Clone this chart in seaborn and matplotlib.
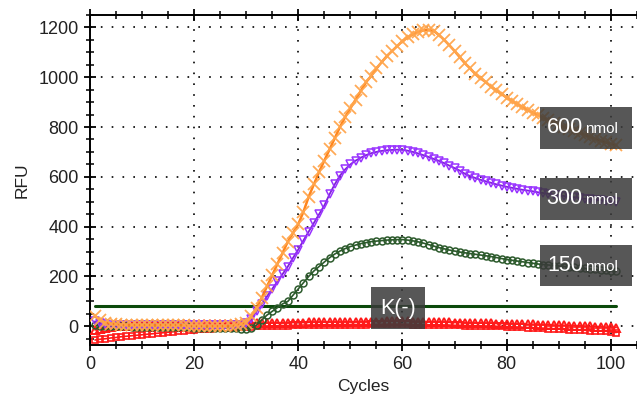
import numpy as np
import pandas as pd
import matplotlib
matplotlib.use("Agg")
import matplotlib.pyplot as plt
from matplotlib.patches import Rectangle
from matplotlib.ticker import MultipleLocator
import seaborn as sns

# cycles 1..101
cycles = list(range(1, 102))

rfu_600 = [40, 25, 15, 10, 8, 7, 6, 6, 6, 5,
           5, 5, 5, 4, 4, 4, 4, 4, 3, 3,
           3, 3, 2, 2, 2, 2, 3, 5, 8, 15,
           40, 75, 115, 160, 205, 250, 295, 340, 375, 410,
           460, 520, 570, 620, 665, 710, 755, 800, 840, 875,
           910, 945, 980, 1005, 1035, 1060, 1085, 1105, 1125, 1145,
           1160, 1172, 1182, 1188, 1190, 1185, 1170, 1150, 1128, 1105,
           1080, 1055, 1035, 1012, 995, 980, 962, 948, 932, 918,
           905, 892, 880, 868, 858, 848, 838, 828, 818, 808,
           800, 792, 784, 776, 768, 760, 752, 745, 738, 732, 726]

rfu_300 = [20, 12, 8, 6, 5, 5, 5, 5, 5, 5,
           5, 5, 5, 5, 5, 5, 5, 5, 5, 5,
           5, 5, 4, 4, 4, 4, 4, 5, 7, 12,
           30, 60, 90, 120, 150, 180, 210, 240, 275, 308,
           345, 380, 415, 450, 485, 530, 570, 605, 630, 650,
           665, 677, 687, 695, 700, 704, 707, 708, 709, 708,
           705, 700, 694, 687, 680, 672, 664, 655, 645, 635,
           625, 612, 603, 595, 588, 582, 576, 570, 565, 560,
           556, 552, 548, 545, 542, 538, 535, 532, 529, 526,
           523, 520, 518, 515, 512, 510, 508, 506, 504, 502, 500]

rfu_150 = [5, 3, 2, 1, 0, 0, 0, -1, -1, -1,
           -2, -2, -2, -3, -3, -3, -4, -4, -4, -5,
           -5, -5, -6, -6, -7, -7, -8, -8, -9, -9,
           -8, 5, 25, 45, 60, 75, 90, 100, 125, 150,
           175, 200, 222, 240, 258, 275, 290, 302, 312, 320,
           326, 332, 336, 340, 342, 344, 346, 347, 348, 348,
           346, 343, 339, 334, 328, 322, 316, 311, 306, 302,
           298, 295, 292, 289, 286, 283, 280, 276, 272, 268,
           265, 262, 259, 256, 253, 250, 248, 246, 244, 242,
           240, 238, 236, 234, 232, 230, 228, 226, 224, 222, 220]

rfu_neg_a = [-15, -10, -6, -3, 0, 1, 2, 3, 4, 5,
             5, 6, 6, 6, 7, 7, 7, 8, 8, 8,
             8, 9, 9, 9, 10, 10, 10, 11, 11, 12,
             12, 12, 13, 13, 13, 14, 14, 14, 15, 15,
             15, 16, 16, 16, 17, 17, 17, 17, 18, 18,
             18, 18, 19, 19, 19, 19, 20, 20, 20, 20,
             20, 19, 19, 19, 18, 18, 17, 17, 16, 15,
             15, 14, 14, 13, 13, 12, 12, 11, 11, 10,
             10, 9, 9, 8, 8, 7, 6, 6, 5, 4,
             4, 3, 2, 2, 1, 0, -1, -2, -3, -4, -5]

rfu_neg_b = [-55, -52, -50, -47, -45, -42, -40, -38, -36, -34,
             -32, -30, -28, -26, -24, -22, -20, -18, -16, -14,
             -12, -11, -10, -8, -7, -6, -5, -4, -3, -2,
             -1, 0, 1, 1, 2, 2, 3, 3, 4, 4,
             5, 5, 5, 6, 6, 6, 6, 7, 7, 7,
             7, 7, 7, 8, 8, 8, 8, 8, 8, 8,
             8, 7, 7, 7, 6, 6, 6, 5, 5, 4,
             4, 3, 3, 2, 2, 1, 1, 0, 0, -1,
             -2, -3, -4, -5, -6, -7, -8, -9, -10, -11,
             -12, -13, -14, -15, -16, -17, -18, -19, -20, -22, -25]

threshold = 80
threshold_x = [1, 101]

# label text, box center (cycle, rfu)
label_names = ["600", "300", "150"]
label_pos = [(95.2, 796), (95.2, 512), (95.2, 244)]
neg_label = "K(-)"
neg_pos = (59.2, 72)

sns.set_style("ticks")
plt.rcParams["font.family"] = ["Liberation Sans", "DejaVu Sans"]

fig = plt.figure(figsize=(6.37, 4.03), dpi=100)
ax = fig.add_axes([0.141, 0.144, 0.859, 0.819])

# threshold line
sns.lineplot(x=threshold_x, y=[threshold, threshold], ax=ax, color="#0b4a0b",
             linewidth=2.2, zorder=2)

# K(-) replicates
sns.lineplot(x=cycles, y=rfu_neg_b, ax=ax, color="#ff1a1a", linewidth=1.2,
             marker="s", markersize=4.5, markerfacecolor="none",
             markeredgecolor="#ff1a1a", markeredgewidth=1.2, zorder=3)
sns.lineplot(x=cycles, y=rfu_neg_a, ax=ax, color="#ff1a1a", linewidth=1.2,
             marker="^", markersize=6, markerfacecolor="none",
             markeredgecolor="#ff1a1a", markeredgewidth=1.4, zorder=3)

# 150 nmol
sns.lineplot(x=cycles, y=rfu_150, ax=ax, color="#2c5a2c", linewidth=1.2,
             marker="o", markersize=5, markerfacecolor="none",
             markeredgecolor="#2c5a2c", markeredgewidth=1.1, zorder=4)
# 300 nmol
sns.lineplot(x=cycles, y=rfu_300, ax=ax, color="#7f22d8", linewidth=1.3,
             marker="v", markersize=5.5, markerfacecolor="none",
             markeredgecolor="#9933ff", markeredgewidth=1.1, zorder=4)
# 600 nmol
sns.lineplot(x=cycles, y=rfu_600, ax=ax, color="#ff7f10", linewidth=1.8,
             marker="x", markersize=9, markeredgecolor="#ffa64d",
             markeredgewidth=1.3, alpha=0.95, zorder=5)

ax.set_xlim(0, 105)
ax.set_ylim(-75, 1250)
ax.xaxis.set_major_locator(MultipleLocator(20))
ax.xaxis.set_minor_locator(MultipleLocator(5))
ax.yaxis.set_major_locator(MultipleLocator(200))
ax.yaxis.set_minor_locator(MultipleLocator(50))
ax.grid(True, which="major", linestyle=(0, (1, 5.5)), color="black", linewidth=1.2)

ax.tick_params(which="both", direction="inout", top=True, labelsize=13,
               colors="black", labelcolor="#222222")
ax.tick_params(which="major", length=9, width=1.3)
ax.tick_params(which="minor", length=6, width=1.1)
for side in ["left", "bottom", "top"]:
    ax.spines[side].set_linewidth(1.4)
    ax.spines[side].set_color("black")
ax.spines["right"].set_visible(False)

ax.set_xlabel("Cycles", fontsize=12.5, color="#222222", labelpad=4)
ax.set_ylabel("RFU", fontsize=12.5, color="#222222", labelpad=6)

box_w, box_h = 17.8, 168
for name, (cx, cy) in zip(label_names, label_pos):
    ax.add_patch(Rectangle((cx - box_w / 2, cy - box_h / 2), box_w, box_h,
                           facecolor="#3a3a3a", alpha=0.85, edgecolor="none",
                           zorder=6))
    ax.text(cx - 0.6, cy - 22, name, color="white", fontsize=15.5,
            ha="right", va="baseline", zorder=7)
    ax.text(cx - 0.1, cy - 22, "nmol", color="white", fontsize=11,
            ha="left", va="baseline", zorder=7)

kw = 10.3
ax.add_patch(Rectangle((neg_pos[0] - kw / 2, neg_pos[1] - box_h / 2), kw, box_h,
                       facecolor="#3a3a3a", alpha=0.85, edgecolor="none", zorder=6))
ax.text(neg_pos[0], neg_pos[1], neg_label, color="white", fontsize=15.5,
        ha="center", va="center", zorder=7)

fig.savefig("out.png", dpi=100)
